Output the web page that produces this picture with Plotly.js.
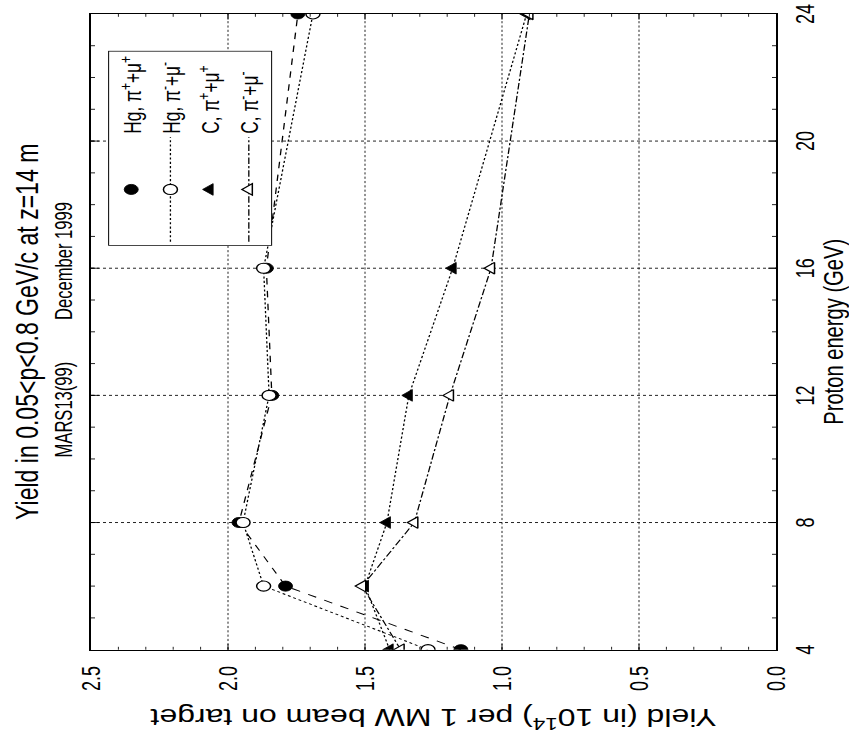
<!DOCTYPE html>
<html>
<head>
<meta charset="utf-8">
<script src="https://cdn.plot.ly/plotly-3.0.1.min.js"></script>
<style>
  html, body { margin: 0; padding: 0; overflow: hidden; background: #fff; width: 849px; height: 744px; }
  #wrap { position: absolute; left: 0; top: 0; width: 849px; height: 744px; overflow: hidden; }
  #chart { position: absolute; left: 0; top: 0; width: 1033px; height: 849px;
           transform-origin: 0 0; transform: translateY(744px) rotate(-90deg) scaleX(0.72); }
</style>
</head>
<body>
<div id="wrap"><div id="chart"></div></div>
<script>
// Proton energy (GeV)
const energy = [4, 6, 8, 12, 16, 24];
// Yield (in 10^14) per 1 MW beam on target
const hgPiPlus  = [1.15, 1.79, 1.96, 1.84, 1.86, 1.745];
const hgPiMinus = [1.27, 1.87, 1.945, 1.85, 1.87, 1.69];
const cPiPlus   = [1.41, 1.50, 1.42, 1.34, 1.18, 0.91];
const cPiMinus  = [1.37, 1.51, 1.32, 1.19, 1.04, 0.90];

const energyTicks = [4, 8, 12, 16, 20, 24];
const yieldTicks = [0, 0.5, 1.0, 1.5, 2.0, 2.5];
const yieldTickText = ['0.0', '0.5', '1.0', '1.5', '2.0', '2.5'];

const names = ['Hg, π<sup>+</sup>+μ<sup>+</sup>', 'Hg, π<sup>-</sup>+μ<sup>-</sup>',
               'C, π<sup>+</sup>+μ<sup>+</sup>', 'C, π<sup>-</sup>+μ<sup>-</sup>'];

const FONT = 'Liberation Sans, Arial, Helvetica, sans-serif';
const K = '#000';

const traces = [
  {x: energy, y: hgPiPlus, mode: 'lines', showlegend: false, hoverinfo: 'skip',
   line: {color: K, width: 1.3, dash: 'dash'}},
  {x: energy, y: hgPiPlus, mode: 'markers', name: names[0], legendgroup: 'a',
   marker: {symbol: 'circle', size: 14, color: K, line: {color: K, width: 1}}},
  {x: energy, y: hgPiMinus, mode: 'lines+markers', name: names[1], legendgroup: 'b',
   line: {color: K, width: 1.3, dash: 'dot'},
   marker: {symbol: 'circle', size: 14, color: '#fff', line: {color: K, width: 1.5}}},
  {x: energy, y: cPiPlus, mode: 'lines', showlegend: false, hoverinfo: 'skip',
   line: {color: K, width: 1.3, dash: 'dot'}},
  {x: energy, y: cPiPlus, mode: 'markers', name: names[2], legendgroup: 'c',
   marker: {symbol: 'triangle-up', size: 14, color: K, line: {color: K, width: 1}}},
  {x: energy, y: cPiMinus, mode: 'lines+markers', name: names[3], legendgroup: 'd',
   line: {color: K, width: 1.3, dash: 'dashdot'},
   marker: {symbol: 'triangle-up', size: 14, color: '#fff', line: {color: K, width: 1.5}}}
];

const layout = {
  width: 1033, height: 849,
  margin: {l: 131, r: 19, t: 91, b: 73, pad: 0},
  paper_bgcolor: '#fff', plot_bgcolor: '#fff',
  font: {family: FONT, color: K, size: 22},
  showlegend: true,
  title: {text: 'Yield in 0.05&lt;p&lt;0.8 GeV/c at z=14 m',
          font: {family: FONT, size: 32, color: K},
          xref: 'paper', x: 0.5, xanchor: 'center',
          yref: 'container', y: 1 - 27 / 849, yanchor: 'middle'},
  xaxis: {
    range: [4, 24], tickvals: energyTicks, ticktext: energyTicks.map(String),
    showline: true, linecolor: K, linewidth: 1.8, mirror: 'ticks',
    ticks: 'inside', ticklen: 8, tickwidth: 1, tickcolor: K,
    tickfont: {family: FONT, size: 25, color: K}, ticklabelstandoff: 6,
    showgrid: true, gridcolor: K, gridwidth: 1, griddash: 'dot',
    zeroline: false, automargin: false,
    minor: {dtick: 1, ticks: 'inside', ticklen: 4, tickcolor: K, showgrid: false},
    title: {text: 'Proton energy (GeV)', font: {family: FONT, size: 28, color: K}, standoff: 10}
  },
  yaxis: {
    range: [0, 2.5], tickvals: yieldTicks, ticktext: yieldTickText,
    showline: true, linecolor: K, linewidth: 1.8, mirror: 'ticks',
    ticks: 'inside', ticklen: 8, tickwidth: 1, tickcolor: K,
    tickfont: {family: FONT, size: 25, color: K}, ticklabelstandoff: 16,
    showgrid: true, gridcolor: K, gridwidth: 1, griddash: 'dot',
    zeroline: false, automargin: false,
    minor: {dtick: 0.1, ticks: 'inside', ticklen: 4, tickcolor: K, showgrid: false},
    title: {text: 'Yield (in 10<sup>14</sup>) per 1 MW beam on target',
            font: {family: FONT, size: 32, color: K}, standoff: 14}
  },
  legend: {x: 0.635, y: 0.975, xanchor: 'left', yanchor: 'top',
           bgcolor: '#fff', bordercolor: K, borderwidth: 1,
           font: {family: FONT, size: 24, color: K},
           itemwidth: 145, traceorder: 'grouped', tracegroupgap: 5},
  annotations: [
    {text: 'MARS13(99)', xref: 'paper', yref: 'paper', x: 0.378, y: 1, yshift: 27,
     xanchor: 'center', yanchor: 'middle', showarrow: false,
     font: {family: FONT, size: 23, color: K}},
    {text: 'December 1999', xref: 'paper', yref: 'paper', x: 0.611, y: 1, yshift: 27,
     xanchor: 'center', yanchor: 'middle', showarrow: false,
     font: {family: FONT, size: 23, color: K}}
  ]
};

Plotly.newPlot('chart', traces, layout, {staticPlot: true, displayModeBar: false});
</script>
</body>
</html>
